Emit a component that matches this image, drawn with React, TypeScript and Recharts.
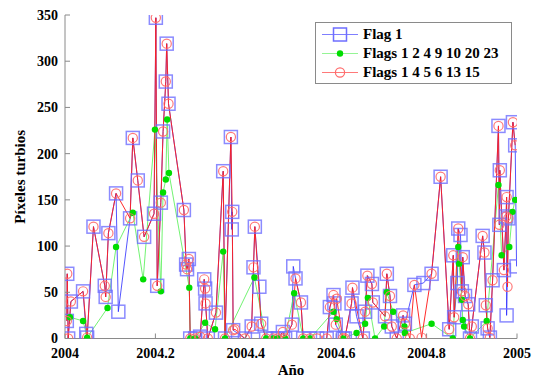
import React from 'react';
import { LineChart, Line, XAxis, YAxis, Legend } from 'recharts';

const xTicks = [2004, 2004.2, 2004.4, 2004.6, 2004.8, 2005];
const yTicks = [0, 50, 100, 150, 200, 250, 300, 350];
const seriesNames = ['Flag 1', 'Flags 1 2 4 9 10 20 23', 'Flags 1 4 5 6 13 15'];

// points shared by "Flag 1" and "Flags 1 4 5 6 13 15"
const sharedPoints: [number, number][] = [
  [2004.004, 19], [2004.005, 70], [2004.007, 0], [2004.013, 40], [2004.040, 51],
  [2004.049, 1], [2004.063, 121], [2004.088, 57], [2004.090, 45], [2004.096, 114],
  [2004.113, 157], [2004.144, 130], [2004.150, 217], [2004.161, 171], [2004.175, 110],
  [2004.197, 135], [2004.201, 347], [2004.204, 57], [2004.212, 147], [2004.217, 224],
  [2004.223, 278], [2004.225, 319], [2004.229, 254], [2004.263, 139], [2004.268, 80],
  [2004.270, 75], [2004.274, 86], [2004.277, 0], [2004.288, 0], [2004.299, 2],
  [2004.308, 64], [2004.310, 54], [2004.311, 38], [2004.316, 0], [2004.334, 28],
  [2004.350, 181], [2004.354, 0], [2004.367, 218], [2004.370, 137], [2004.372, 9],
  [2004.398, 0], [2004.413, 13], [2004.417, 77], [2004.420, 121], [2004.434, 16],
  [2004.445, 0], [2004.461, 0], [2004.471, 0], [2004.482, 7], [2004.487, 0],
  [2004.502, 15], [2004.510, 65], [2004.522, 39], [2004.527, 0], [2004.542, 0],
  [2004.558, 0], [2004.579, 0], [2004.586, 34], [2004.594, 47], [2004.599, 15],
  [2004.615, 0], [2004.619, 0], [2004.634, 38], [2004.636, 55], [2004.659, 0],
  [2004.664, 29], [2004.669, 68], [2004.679, 59], [2004.681, 39], [2004.708, 24],
  [2004.712, 70], [2004.719, 46], [2004.723, 13], [2004.734, 0], [2004.748, 25],
  [2004.752, 16], [2004.773, 58], [2004.811, 70], [2004.831, 175], [2004.850, 10],
  [2004.859, 90], [2004.861, 23], [2004.870, 119], [2004.878, 51], [2004.880, 88],
  [2004.885, 46], [2004.892, 37], [2004.896, 0], [2004.900, 13], [2004.924, 111],
  [2004.928, 93], [2004.931, 36], [2004.935, 11], [2004.940, 1], [2004.946, 63],
  [2004.959, 230], [2004.961, 123], [2004.962, 182], [2004.971, 74], [2004.976, 132],
  [2004.977, 153], [2004.981, 130], [2004.991, 234], [2004.996, 209],
];

const flag1OnlyPoints: [number, number][] = [
  [2004.047, 5], [2004.118, 29], [2004.369, 118], [2004.430, 56], [2004.505, 78],
  [2004.596, 38], [2004.645, 24], [2004.793, 60], [2004.868, 60], [2004.875, 112],
  [2004.977, 25], [2004.999, 78],
];

const redOnlyPoints: [number, number][] = [
  [2004.376, 10], [2004.601, 43], [2004.763, 0], [2004.789, 1], [2004.979, 56],
];

const greenPoints: [number, number][] = [
  [2004.011, 23], [2004.040, 19], [2004.049, 1], [2004.094, 33], [2004.113, 99],
  [2004.150, 136], [2004.173, 64], [2004.199, 226], [2004.212, 51], [2004.217, 158],
  [2004.223, 172], [2004.226, 237], [2004.230, 179], [2004.275, 55], [2004.277, 0],
  [2004.288, 0], [2004.310, 17], [2004.332, 10], [2004.350, 94], [2004.354, 0],
  [2004.419, 66], [2004.445, 0], [2004.461, 0], [2004.471, 0], [2004.487, 0],
  [2004.507, 49], [2004.527, 0], [2004.542, 0], [2004.594, 29], [2004.601, 21],
  [2004.615, 0], [2004.645, 6], [2004.664, 16], [2004.670, 44], [2004.686, 0],
  [2004.706, 13], [2004.712, 50], [2004.726, 29], [2004.751, 13], [2004.752, 6],
  [2004.811, 16], [2004.858, 0], [2004.870, 99], [2004.872, 81], [2004.878, 42],
  [2004.880, 20], [2004.883, 13], [2004.896, 0], [2004.933, 19], [2004.959, 166],
  [2004.966, 90], [2004.983, 99], [2004.990, 137], [2004.996, 150],
];

const toRows = (pts: [number, number][]) =>
  pts.slice().sort((a, b) => a[0] - b[0]).map(([x, y]) => ({ x, y }));

const blueData = toRows([...sharedPoints, ...flag1OnlyPoints]);
const redData = toRows([...sharedPoints, ...redOnlyPoints]);
const greenData = toRows(greenPoints);

const BLUE_LINE = '#2a2aff';
const BLUE_MARK = '#6e6eff';
const GREEN_LINE = '#4fef4f';
const GREEN_MARK = '#00dd00';
const RED_LINE = '#ff2020';
const RED_MARK = '#ff6a6a';
const AXIS = '#8a8a8a';
const FONT = '"Liberation Serif", "Times New Roman", serif';

const SquareDot = (props: any) => {
  const { cx, cy, index } = props;
  if (cx == null || cy == null) return <g key={`sq${index}`} />;
  return (
    <rect key={`sq${index}`} x={cx - 6.5} y={cy - 6.5} width={13} height={13}
      fill="none" stroke={BLUE_MARK} strokeOpacity={0.8} strokeWidth={1.5} />
  );
};

const GreenDot = (props: any) => {
  const { cx, cy, index } = props;
  if (cx == null || cy == null) return <g key={`gd${index}`} />;
  return <circle key={`gd${index}`} cx={cx} cy={cy} r={3.2} fill={GREEN_MARK} stroke="none" />;
};

const CircleDot = (props: any) => {
  const { cx, cy, index } = props;
  if (cx == null || cy == null) return <g key={`cd${index}`} />;
  return (
    <circle key={`cd${index}`} cx={cx} cy={cy} r={4.6} fill="none"
      stroke={RED_MARK} strokeOpacity={0.9} strokeWidth={1.2} />
  );
};

const LegendBox = () => {
  const row = (i: number) => {
    const marker =
      i === 0 ? (
        <rect x={11.5} y={3} width={13} height={13} fill="none" stroke={BLUE_MARK} strokeWidth={1.5} />
      ) : i === 1 ? (
        <circle cx={18} cy={9.5} r={3.2} fill={GREEN_MARK} />
      ) : (
        <circle cx={18} cy={9.5} r={4.6} fill="none" stroke={RED_MARK} strokeWidth={1.2} />
      );
    const color = i === 0 ? BLUE_LINE : i === 1 ? GREEN_LINE : RED_LINE;
    return (
      <div key={i} style={{ display: 'flex', alignItems: 'center', height: 19 }}>
        <svg width={36} height={19} style={{ display: 'block' }}>
          <line x1={0} y1={9.5} x2={36} y2={9.5} stroke={color} strokeOpacity={0.6} strokeWidth={1.2} />
          {marker}
        </svg>
        <span style={{ marginLeft: 5, fontFamily: FONT, fontWeight: 'bold', fontSize: 15, color: '#000', whiteSpace: 'nowrap' }}>
          {seriesNames[i]}
        </span>
      </div>
    );
  };
  return (
    <div style={{ width: 189, height: 58, border: `1px solid ${AXIS}`, background: '#fff', padding: '2px 0 0 6px', boxSizing: 'content-box' }}>
      {row(0)}
      {row(1)}
      {row(2)}
    </div>
  );
};

const tickStyle = { fill: '#000', fontSize: 14, fontWeight: 'bold', fontFamily: FONT };

export default function App() {
  return (
    <div style={{ position: 'absolute', left: 0, top: 0, width: 536, height: 379, background: '#fff' }}>
      <LineChart width={536} height={379} margin={{ top: 15, right: 19, bottom: 0, left: 0 }}>
        <XAxis dataKey="x" type="number" domain={[2004, 2005]} ticks={xTicks} allowDataOverflow
          height={40.5} stroke={AXIS} tickSize={-5} tickMargin={15} tick={tickStyle}
          tickFormatter={(v: number) => String(v)}
          label={{ value: 'Año', position: 'insideBottom', offset: 4, style: { fill: '#000', fontSize: 15, fontWeight: 'bold', fontFamily: FONT } }} />
        <YAxis type="number" domain={[0, 350]} ticks={yTicks} allowDataOverflow width={65}
          stroke={AXIS} tickSize={-5} tickMargin={12} tick={tickStyle}
          label={{ value: 'Píxeles turbios', angle: -90, position: 'insideLeft', offset: 20, style: { textAnchor: 'middle', fill: '#000', fontSize: 15, fontWeight: 'bold', fontFamily: FONT } }} />
        <XAxis xAxisId="top" orientation="top" type="number" domain={[2004, 2005]} ticks={xTicks}
          allowDataOverflow height={0} stroke={AXIS} tickSize={-5} tick={false} />
        <YAxis yAxisId="right" orientation="right" type="number" domain={[0, 350]} ticks={yTicks}
          allowDataOverflow width={0} stroke={AXIS} tickSize={-5} tick={false} />
        <Legend layout="vertical" align="center" verticalAlign="middle"
          wrapperStyle={{ position: 'absolute', left: 315, top: 22, width: 'auto', height: 'auto' }}
          content={() => <LegendBox />} />
        <Line data={blueData} dataKey="y" name={seriesNames[0]} type="linear" stroke={BLUE_LINE}
          strokeOpacity={0.8} strokeWidth={1} dot={SquareDot} activeDot={false} isAnimationActive={false} />
        <Line data={greenData} dataKey="y" name={seriesNames[1]} type="linear" stroke={GREEN_LINE}
          strokeOpacity={0.8} strokeWidth={1} dot={GreenDot} activeDot={false} isAnimationActive={false} />
        <Line data={redData} dataKey="y" name={seriesNames[2]} type="linear" stroke={RED_LINE}
          strokeOpacity={0.95} strokeWidth={1} dot={CircleDot} activeDot={false} isAnimationActive={false} />
      </LineChart>
    </div>
  );
}
